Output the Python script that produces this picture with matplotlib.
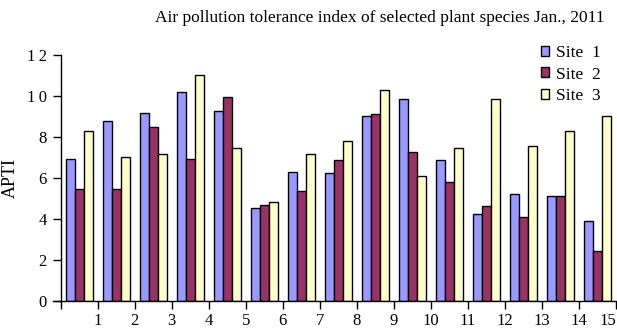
import numpy as np
import matplotlib
matplotlib.use('Agg')
import matplotlib.pyplot as plt

plt.rcParams['font.family'] = ['Liberation Serif', 'DejaVu Serif']

TITLE = 'Air pollution tolerance index of selected plant species Jan., 2011'
species = list(range(1, 16))
site1 = [6.9, 8.75, 9.15, 10.2, 9.25, 4.5, 6.3, 6.25, 9.0, 9.85, 6.85, 4.25, 5.2, 5.12, 3.87]
site2 = [5.45, 5.45, 8.47, 6.93, 9.95, 4.68, 5.37, 6.85, 9.09, 7.27, 5.8, 4.6, 4.08, 5.12, 2.42]
site3 = [8.3, 7.0, 7.17, 11.0, 7.43, 4.83, 7.17, 7.79, 10.29, 6.07, 7.43, 9.85, 7.53, 8.3, 9.0]
yticks = [0, 2, 4, 6, 8, 10, 12]
series = [('Site  1', site1, '#9999ff'),
          ('Site  2', site2, '#993366'),
          ('Site  3', site3, '#ffffcc')]

fig = plt.figure(figsize=(6.17, 3.28), dpi=100)
ax = fig.add_axes([0.0984, 0.0838, 0.9, 0.749])

x = np.arange(len(species)) + 0.5
w = 0.24
for k, (name, vals, col) in enumerate(series):
    ax.bar(x + (k - 1) * w, vals, w, color=col, edgecolor='black',
           linewidth=1.0, label=name)

ax.set_xlim(0, 15)
ax.set_ylim(0, 12)
ax.set_xticks(range(0, 16))
ax.set_xticklabels([''] + [str(s) for s in species])
ax.get_xticklabels()[-1].set_ha('right')
ax.set_yticks(yticks)
# digits in the y labels are spread out like in the original
ax.set_yticklabels(['\u2009'.join(str(t)) for t in yticks])
ax.tick_params(axis='both', labelsize=12, direction='out', length=6, width=1)
ax.tick_params(axis='x', pad=3)
ax.tick_params(axis='y', pad=4)
for s in ['top', 'right']:
    ax.spines[s].set_visible(False)
ax.spines['left'].set_linewidth(1)
ax.spines['bottom'].set_linewidth(1)
# the base line runs a bit past the y axis
ax.plot([-0.014, 0], [0, 0], color='black', lw=1, transform=ax.transAxes,
        clip_on=False)
ax.set_ylabel('APTI', fontsize=13, labelpad=6)

fig.text(0.616, 0.945, TITLE, ha='center', va='center', fontsize=12.5)

leg = ax.legend(loc='upper left', bbox_to_anchor=(0.852, 1.067), frameon=False,
                fontsize=12.5, handlelength=0.5, handleheight=0.5,
                handletextpad=0.35, labelspacing=0.3, borderaxespad=0)

fig.savefig('out.png', dpi=100)
